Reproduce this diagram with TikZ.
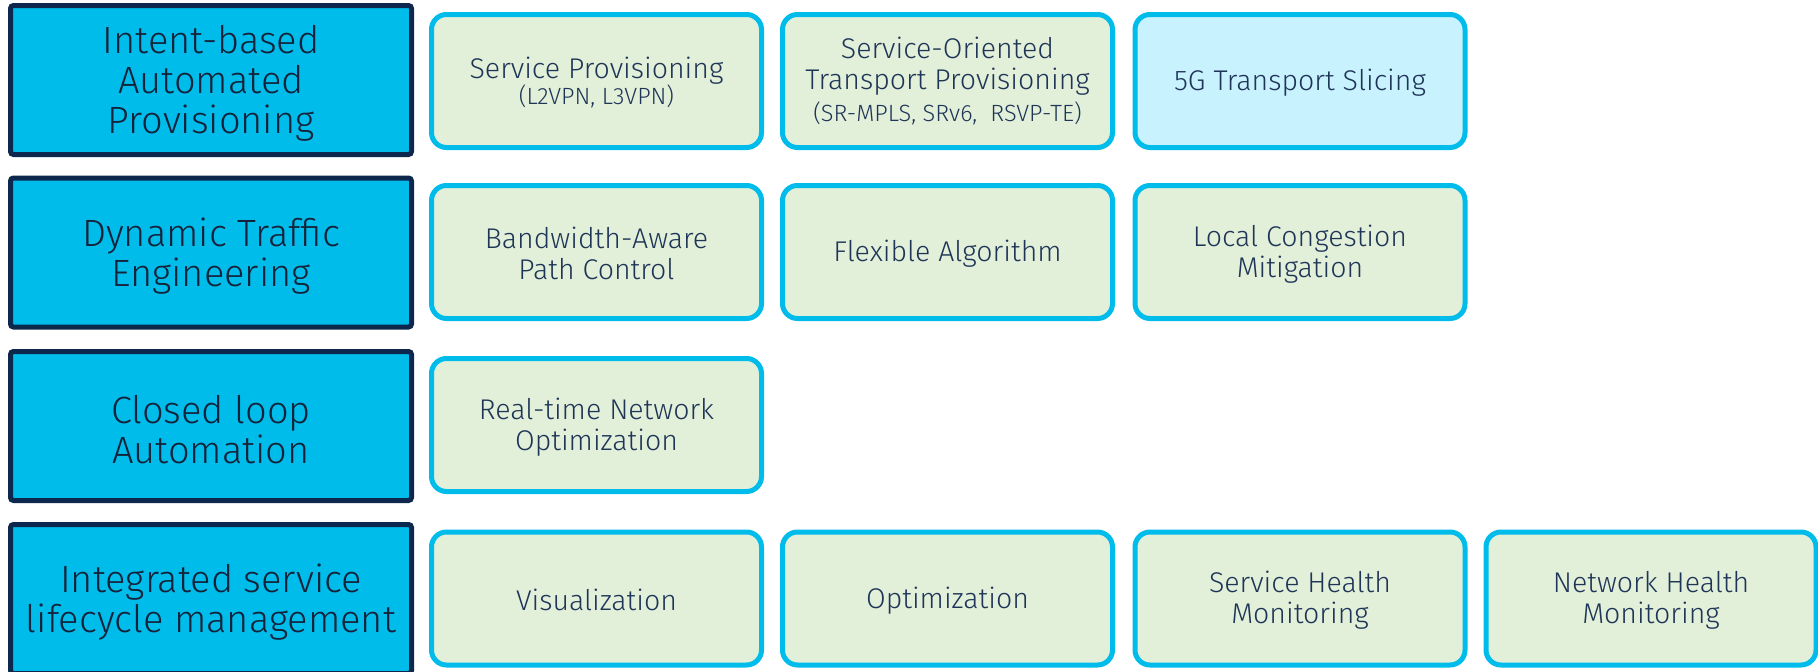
\documentclass[tikz,border=0pt]{standalone}
\usepackage{fontspec}
\setmainfont{Fira Sans Light}
\definecolor{ciscoblue}{HTML}{00BCEB}
\definecolor{navy}{HTML}{0D274D}
\definecolor{catink}{HTML}{14233A}
\definecolor{ink}{HTML}{1F3558}
\definecolor{leaf}{HTML}{E2F0D9}
\definecolor{sky}{HTML}{C8F2FE}
% smaller second line inside a box
\newcommand{\subline}[1]{{\fontsize{23.5}{26}\selectfont #1}}
% struts that give the first line of a label some head room
\newcommand{\catlift}{\rule{0pt}{35pt}}
\newcommand{\itemlift}{\rule{0pt}{25pt}}
\begin{document}
\begin{tikzpicture}[x=1pt,y=-1pt,
  cat/.style={draw=navy, line width=5pt, fill=ciscoblue, rounded corners=3pt,
    minimum width=401pt, minimum height=149pt, inner sep=0pt, align=center,
    text=catink, font=\fontsize{38}{40}\selectfont},
  item/.style={draw=ciscoblue, line width=5pt, fill=leaf, rounded corners=15pt,
    minimum width=330pt, minimum height=133pt, inner sep=0pt, align=center,
    text=ink, font=\fontsize{28.5}{31}\selectfont},
  slice/.style={item, fill=sky}]
\useasboundingbox (0,0) rectangle (1818,672);

% category column
\node[cat] (c1) at (211,80)  {\catlift Intent-based\\Automated\\Provisioning};
\node[cat] (c2) at (211,252.5) {\catlift Dynamic Traffic\\Engineering};
\node[cat] (c3) at (211,426) {\catlift Closed loop\\Automation};
\node[cat] (c4) at (211,599) {\catlift Integrated service\\lifecycle management};

% provisioning row
\node[item] (p1) at (596.5,81) {\itemlift Service Provisioning\\[-5pt]\subline{(L2VPN, L3VPN)}};
\node[item] (p2) at (947.5,81) {Service-Oriented\\Transport Provisioning\\[1pt]\subline{(SR-MPLS, SRv6,\ \ RSVP-TE)}};
\node[slice] (p3) at (1300,81) {\itemlift 5G Transport Slicing};

% traffic engineering row
\node[item] (t1) at (596.5,252) {\itemlift Bandwidth-Aware\\Path Control};
\node[item] (t2) at (947.5,252) {\itemlift Flexible Algorithm};
\node[item] (t3) at (1300,252) {\itemlift Local Congestion\\Mitigation};

% closed loop row
\node[item] (a1) at (596.5,425) {\itemlift Real-time Network\\Optimization};

% lifecycle row
\node[item] (l1) at (596.5,598.5) {\itemlift Visualization};
\node[item] (l2) at (947.5,598.5) {\itemlift Optimization};
\node[item] (l3) at (1300,598.5) {\itemlift Service Health\\Monitoring};
\node[item] (l4) at (1651,598.5) {\itemlift Network Health\\Monitoring};
\end{tikzpicture}
\end{document}
